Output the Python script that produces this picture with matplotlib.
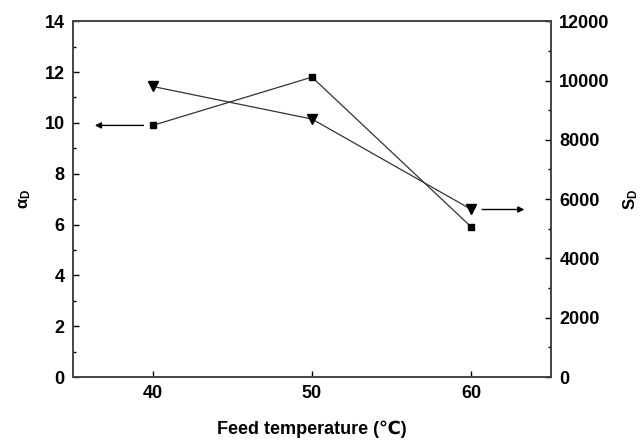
import matplotlib
matplotlib.use("Agg")
import matplotlib.pyplot as plt
from matplotlib.ticker import MultipleLocator

plt.rcParams["font.family"] = ["Liberation Sans", "DejaVu Sans"]
plt.rcParams["font.weight"] = "bold"
plt.rcParams["mathtext.fontset"] = "custom"
plt.rcParams["mathtext.rm"] = "Liberation Sans"
plt.rcParams["mathtext.it"] = "Liberation Sans:bold"
plt.rcParams["mathtext.bf"] = "Liberation Sans:bold"

temps = [40, 50, 60]
alpha_d = [9.9, 11.8, 5.9]
s_d = [9800, 8700, 5650]

fig = plt.figure(figsize=(6.4, 4.42), dpi=100)
ax = fig.add_axes([0.114, 0.147, 0.747, 0.805])
ax2 = ax.twinx()

ax.plot(temps, alpha_d, color="#333333", lw=0.9, marker="s", ms=5,
        mfc="black", mec="black")
ax2.plot(temps, s_d, color="#333333", lw=0.9, marker="v", ms=6.5,
         mfc="black", mec="black")

# arrows pointing to the axis each curve belongs to
ax.annotate("", xy=(36.2, alpha_d[0]), xytext=(39.6, alpha_d[0]),
            arrowprops=dict(arrowstyle="-|>", color="black", lw=1,
                            mutation_scale=9))
ax2.annotate("", xy=(63.5, s_d[2]), xytext=(60.5, s_d[2]),
             arrowprops=dict(arrowstyle="-|>", color="black", lw=1,
                             mutation_scale=9))

ax.set_xlim(35, 65)
ax.set_ylim(0, 14)
ax2.set_ylim(0, 12000)
ax.set_xticks(temps)
ax.yaxis.set_major_locator(MultipleLocator(2))
ax.yaxis.set_minor_locator(MultipleLocator(1))
ax2.yaxis.set_major_locator(MultipleLocator(2000))
ax2.yaxis.set_minor_locator(MultipleLocator(1000))

for a in (ax, ax2):
    a.tick_params(direction="in", which="both", labelsize=13, width=1, pad=6)
    a.tick_params(which="major", length=4)
    a.tick_params(which="minor", length=2.5)
    for s in a.spines.values():
        s.set_linewidth(1.2)
        s.set_color("#444444")
    for lab in a.get_xticklabels() + a.get_yticklabels():
        lab.set_fontweight("bold")

ax.set_xlabel("Feed temperature (\u2103)", fontsize=13, fontweight="bold", labelpad=13)
ax.set_ylabel(r"$\alpha_D$", fontsize=12, labelpad=8)
ax2.set_ylabel(r"$S_D$", fontsize=12, labelpad=8)

fig.savefig("out.png", dpi=100)
